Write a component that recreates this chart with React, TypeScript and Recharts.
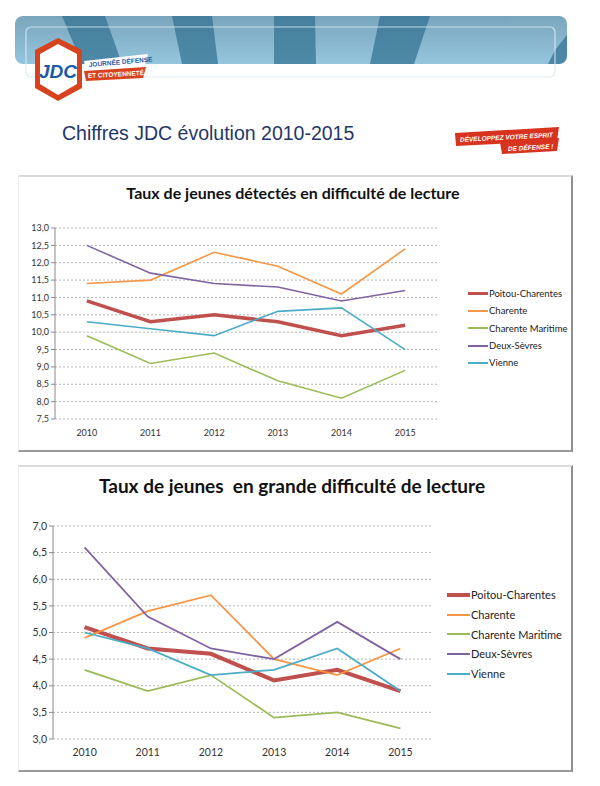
import React from 'react';
import { LineChart, Line, XAxis, YAxis, CartesianGrid, Legend } from 'recharts';

const years = [2010, 2011, 2012, 2013, 2014, 2015];
const seriesNames = ['Poitou-Charentes', 'Charente', 'Charente Maritime', 'Deux-Sèvres', 'Vienne'];
const seriesColors = ['#c0504d', '#f79646', '#9bbb59', '#8064a2', '#4bacc6'];

// Chart 1: Taux de jeunes détectés en difficulté de lecture
const poitouDiff = [10.9, 10.3, 10.5, 10.3, 9.9, 10.2];
const charenteDiff = [11.4, 11.5, 12.3, 11.9, 11.1, 12.4];
const maritimeDiff = [9.9, 9.1, 9.4, 8.6, 8.1, 8.9];
const deuxSevresDiff = [12.5, 11.7, 11.4, 11.3, 10.9, 11.2];
const vienneDiff = [10.3, 10.1, 9.9, 10.6, 10.7, 9.5];
const yTicksDiff = [7.5, 8, 8.5, 9, 9.5, 10, 10.5, 11, 11.5, 12, 12.5, 13];

// Chart 2: Taux de jeunes en grande difficulté de lecture
const poitouGrande = [5.1, 4.7, 4.6, 4.1, 4.3, 3.9];
const charenteGrande = [4.9, 5.4, 5.7, 4.5, 4.2, 4.7];
const maritimeGrande = [4.3, 3.9, 4.2, 3.4, 3.5, 3.2];
const deuxSevresGrande = [6.6, 5.3, 4.7, 4.5, 5.2, 4.5];
const vienneGrande = [5.0, 4.7, 4.2, 4.3, 4.7, 3.9];
const yTicksGrande = [3, 3.5, 4, 4.5, 5, 5.5, 6, 6.5, 7];

const title1 = 'Taux de jeunes détectés en difficulté de lecture';
const title2 = 'Taux de jeunes  en grande difficulté de lecture';
const pageTitle = 'Chiffres JDC évolution 2010-2015';

const buildData = (cols: number[][]) =>
  years.map((y, i) => {
    const row: any = { year: y };
    seriesNames.forEach((n, k) => {
      row[n] = cols[k][i];
    });
    return row;
  });

const dataDiff = buildData([poitouDiff, charenteDiff, maritimeDiff, deuxSevresDiff, vienneDiff]);
const dataGrande = buildData([poitouGrande, charenteGrande, maritimeGrande, deuxSevresGrande, vienneGrande]);
const boundaryTicks = [...years.map((y) => y - 0.5), years[years.length - 1] + 0.5];

const FONT = 'Lato, Calibri, "Open Sans", sans-serif';
const fmt = (v: number) => v.toFixed(1).replace('.', ',');

const makeLegend = (fontSize: number, rowH: number, lineW: number) => (props: any) => {
  const items = [...(props.payload || [])].sort(
    (a: any, b: any) => seriesNames.indexOf(a.value) - seriesNames.indexOf(b.value)
  );
  return (
    <div style={{ fontFamily: FONT, fontSize, color: '#222' }}>
      {items.map((p: any, i: number) => (
        <div key={i} style={{ display: 'flex', alignItems: 'center', height: rowH }}>
          <div
            style={{
              width: lineW,
              height: p.value === seriesNames[0] ? 3.5 : 2,
              background: p.color,
              marginRight: 1,
            }}
          />
          <span>{p.value}</span>
        </div>
      ))}
    </div>
  );
};

type ChartProps = {
  data: any[];
  ticks: number[];
  domain: [number, number];
  width: number;
  height: number;
  margin: any;
  yWidth: number;
  xHeight: number;
  xTickMargin: number;
  tickFont: number;
  legendPos: { left: number; top: number };
  legendFont: number;
  legendRow: number;
  legendLine: number;
  thick: number;
  thin: number;
};

function JdcChart(p: ChartProps) {
  return (
    <LineChart width={p.width} height={p.height} data={p.data} margin={p.margin}>
      <CartesianGrid
        xAxisId="labels"
        vertical={false}
        stroke="#b5b5b5"
        strokeDasharray="2 2"
      />
      <XAxis
        xAxisId="bounds"
        dataKey="year"
        type="number"
        domain={[boundaryTicks[0], boundaryTicks[boundaryTicks.length - 1]]}
        ticks={boundaryTicks}
        height={0}
        tick={false}
        tickSize={4}
        axisLine={{ stroke: '#8a8a8a' }}
        tickLine={{ stroke: '#8a8a8a' }}
      />
      <XAxis
        xAxisId="labels"
        dataKey="year"
        type="number"
        domain={[boundaryTicks[0], boundaryTicks[boundaryTicks.length - 1]]}
        ticks={years}
        height={p.xHeight}
        axisLine={false}
        tickLine={false}
        tickMargin={p.xTickMargin}
        tick={{ fill: '#333', fontSize: p.tickFont, fontFamily: FONT }}
      />
      <YAxis
        domain={p.domain}
        ticks={p.ticks}
        width={p.yWidth}
        tickFormatter={fmt}
        axisLine={{ stroke: '#8a8a8a' }}
        tickLine={{ stroke: '#8a8a8a' }}
        tickSize={4}
        tickMargin={2}
        interval={0}
        tick={{ fill: '#333', fontSize: p.tickFont, fontFamily: FONT }}
      />
      {seriesNames.map((n, i) => (
        <Line
          key={n}
          xAxisId="labels"
          dataKey={n}
          stroke={seriesColors[i]}
          strokeWidth={i === 0 ? p.thick : p.thin}
          dot={false}
          activeDot={false}
          isAnimationActive={false}
        />
      ))}
      <Legend
        layout="vertical"
        align="center"
        verticalAlign="middle"
        content={makeLegend(p.legendFont, p.legendRow, p.legendLine)}
        wrapperStyle={{ position: 'absolute', left: p.legendPos.left, top: p.legendPos.top, width: 130 }}
      />
    </LineChart>
  );
}

function Header() {
  return (
    <svg width={600} height={170} style={{ position: 'absolute', left: 0, top: 0 }}>
      <defs>
        <linearGradient id="bannerGrad" x1="0" y1="0" x2="0" y2="1">
          <stop offset="0" stopColor="#7aa5bd" />
          <stop offset="1" stopColor="#95c6de" />
        </linearGradient>
        <clipPath id="bannerClip">
          <rect x={15} y={16} width={552} height={48} rx={8} />
        </clipPath>
      </defs>
      <rect x={15} y={16} width={552} height={48} rx={8} fill="url(#bannerGrad)" />
      <g clipPath="url(#bannerClip)" opacity={0.7}>
        <polygon points="62,16 105,16 122,64 82,64" fill="#2f6f8f" />
        <polygon points="172,16 212,16 218,64 182,64" fill="#2f6f8f" />
        <polygon points="274,16 315,16 316,64 274,64" fill="#2f6f8f" />
        <polygon points="380,16 430,16 414,64 370,64" fill="#2f6f8f" />
        <polygon points="555,50 575,25 575,64 548,64" fill="#2f6f8f" />
      </g>
      <rect x={26} y={27} width={529} height={50} rx={5} fill="none" stroke="#dbe9f1" strokeWidth={1.2} opacity={0.85} />
      {/* logo */}
      <polygon points="58,38 82,50 82,88 58,101 35,88 35,50" fill="#d8431f" />
      <polygon points="58,44 77,54 77,84 58,95 40,84 40,54" fill="#ffffff" />
      <text x={58} y={78} textAnchor="middle" fontFamily="Liberation Sans, Arial, sans-serif" fontWeight="bold" fontSize={19} fill="#1d5aa6" fontStyle="italic">
        JDC
      </text>
      <polygon points="84,61 148,54 145,65 86,70" fill="#ffffff" />
      <text x={89} y={67} fontFamily="Liberation Sans, Arial, sans-serif" fontWeight="bold" fontSize={6.5} fill="#1d5aa6" transform="rotate(-5 89 67)">
        JOURNÉE DÉFENSE
      </text>
      <polygon points="84,71 146,67 143,78 86,81" fill="#d8431f" />
      <text x={88} y={78} fontFamily="Liberation Sans, Arial, sans-serif" fontWeight="bold" fontSize={6.5} fill="#ffffff" transform="rotate(-3 88 78)">
        ET CITOYENNETÉ
      </text>
      {/* page title */}
      <text x={62} y={140} fontFamily="Liberation Sans, Arial, sans-serif" fontSize={19.5} fill="#1f3768">
        {pageTitle}
      </text>
      {/* badge */}
      <polygon points="455,133 559,127 557,141 456,146" fill="#d8331f" />
      <polygon points="500,142 559,138 557,151 502,154" fill="#d8331f" />
      <text x={460} y={142} fontFamily="Liberation Sans, Arial, sans-serif" fontWeight="bold" fontStyle="italic" fontSize={6.5} fill="#ffffff" transform="rotate(-3 460 142)">
        DÉVELOPPEZ VOTRE ESPRIT
      </text>
      <text x={508} y={151} fontFamily="Liberation Sans, Arial, sans-serif" fontWeight="bold" fontStyle="italic" fontSize={6.5} fill="#ffffff" transform="rotate(-3 508 151)">
        DE DÉFENSE !
      </text>
    </svg>
  );
}

export default function App() {
  return (
    <div style={{ position: 'absolute', left: 0, top: 0, width: 600, height: 786, background: '#fff', overflow: 'hidden' }}>
      <Header />
      {/* Chart 1 frame */}
      <div
        style={{
          position: 'absolute',
          left: 18,
          top: 175,
          width: 552,
          height: 273,
          borderTop: '2px solid #dcdcdc',
          borderRight: '2px solid #8f8f8f',
          borderBottom: '2px solid #9a9a9a',
          borderLeft: '1px solid #eeeeee',
        }}
      />
      <div
        style={{
          position: 'absolute',
          left: 18,
          top: 183,
          width: 552,
          fontFamily: FONT,
          fontWeight: 'bold',
          fontSize: 16,
          color: '#111',
        }}
      >
        <span style={{ position: 'absolute', left: 275, transform: 'translateX(-50%)', whiteSpace: 'nowrap' }}>{title1}</span>
      </div>
      <div style={{ position: 'absolute', left: 18, top: 175 }}>
        <JdcChart
          data={dataDiff}
          ticks={yTicksDiff}
          domain={[7.5, 13]}
          width={553}
          height={274}
          margin={{ top: 53, right: 134, left: 0, bottom: 0 }}
          yWidth={37}
          xHeight={30}
          xTickMargin={5}
          tickFont={9}
          legendPos={{ left: 450, top: 110 }}
          legendFont={9.5}
          legendRow={17.3}
          legendLine={20}
          thick={3.5}
          thin={1.6}
        />
      </div>
      {/* Chart 2 frame */}
      <div
        style={{
          position: 'absolute',
          left: 18,
          top: 465,
          width: 552,
          height: 303,
          borderTop: '2px solid #dcdcdc',
          borderRight: '2px solid #8f8f8f',
          borderBottom: '2px solid #9a9a9a',
          borderLeft: '1px solid #eeeeee',
        }}
      />
      <div
        style={{
          position: 'absolute',
          left: 18,
          top: 474,
          width: 552,
          fontFamily: FONT,
          fontWeight: 'bold',
          fontSize: 19,
          color: '#111',
        }}
      >
        <span style={{ position: 'absolute', left: 274, transform: 'translateX(-50%)', whiteSpace: 'pre' }}>{title2}</span>
      </div>
      <div style={{ position: 'absolute', left: 18, top: 465 }}>
        <JdcChart
          data={dataGrande}
          ticks={yTicksGrande}
          domain={[3, 7]}
          width={553}
          height={304}
          margin={{ top: 61, right: 139, left: 0, bottom: 0 }}
          yWidth={35}
          xHeight={30}
          xTickMargin={4}
          tickFont={10.5}
          legendPos={{ left: 429, top: 120 }}
          legendFont={11}
          legendRow={19.7}
          legendLine={23}
          thick={4}
          thin={1.8}
        />
      </div>
    </div>
  );
}
